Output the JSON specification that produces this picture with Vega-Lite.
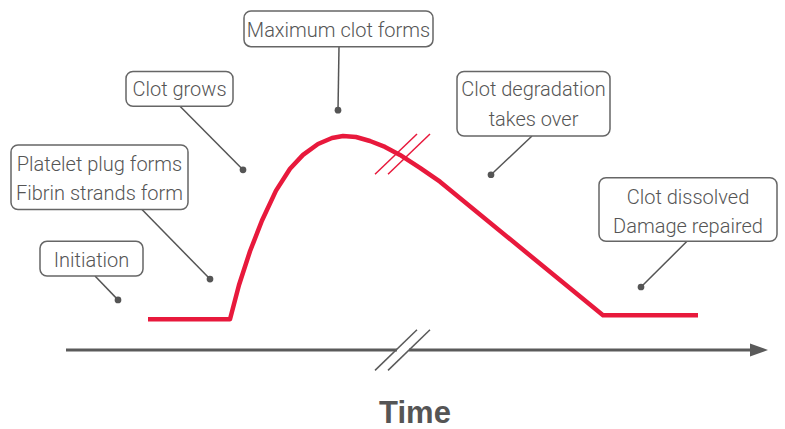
{
  "$schema": "https://vega.github.io/schema/vega-lite/v6.json",
  "width": 785,
  "height": 429,
  "autosize": {"type": "fit", "contains": "padding"},
  "padding": 0,
  "background": "white",
  "config": {"view": {"stroke": null}},
  "datasets": {
    "curve": [
      {"i": 0, "x": 148, "y": 321.5}, {"i": 1, "x": 230, "y": 321.5},
      {"i": 2, "x": 239, "y": 287}, {"i": 3, "x": 250, "y": 253},
      {"i": 4, "x": 262, "y": 222}, {"i": 5, "x": 276, "y": 192},
      {"i": 6, "x": 290, "y": 170}, {"i": 7, "x": 303, "y": 156},
      {"i": 8, "x": 318, "y": 145}, {"i": 9, "x": 332, "y": 139},
      {"i": 10, "x": 343, "y": 137}, {"i": 11, "x": 356, "y": 138},
      {"i": 12, "x": 370, "y": 142}, {"i": 13, "x": 385, "y": 148},
      {"i": 14, "x": 400, "y": 156}, {"i": 15, "x": 420, "y": 169},
      {"i": 16, "x": 440, "y": 183}, {"i": 17, "x": 603, "y": 317.5},
      {"i": 18, "x": 698, "y": 317.5}
    ],
    "boxes": [
      {"label": "Initiation", "x": 40, "y": 243, "x2": 143, "y2": 278},
      {"label": "Platelet", "x": 11, "y": 146, "x2": 188, "y2": 211},
      {"label": "Clot grows", "x": 126, "y": 72, "x2": 233, "y2": 107},
      {"label": "Maximum", "x": 244, "y": 11, "x2": 433, "y2": 47},
      {"label": "Degradation", "x": 457, "y": 72, "x2": 610, "y2": 137},
      {"label": "Dissolved", "x": 599, "y": 179, "x2": 777, "y2": 243}
    ],
    "texts": [
      {"t": "Initiation", "x": 91.5, "y": 268.5},
      {"t": "Platelet plug forms", "x": 99.5, "y": 172.5},
      {"t": "Fibrin strands form", "x": 99.5, "y": 201.5},
      {"t": "Clot grows", "x": 179.5, "y": 97},
      {"t": "Maximum clot forms", "x": 338.5, "y": 37},
      {"t": "Clot degradation", "x": 533.5, "y": 97},
      {"t": "takes over", "x": 533.5, "y": 126.5},
      {"t": "Clot dissolved", "x": 688, "y": 205.5},
      {"t": "Damage repaired", "x": 688, "y": 235}
    ],
    "leaders": [
      {"x": 95, "y": 278, "x2": 118, "y2": 302},
      {"x": 142, "y": 211, "x2": 210, "y2": 281},
      {"x": 180, "y": 107, "x2": 243, "y2": 171},
      {"x": 339, "y": 47, "x2": 338, "y2": 111},
      {"x": 532, "y": 137, "x2": 491, "y2": 176},
      {"x": 687, "y": 243, "x2": 641, "y2": 289}
    ],
    "dots": [
      {"x": 118, "y": 302}, {"x": 210, "y": 281}, {"x": 243, "y": 171},
      {"x": 338, "y": 111}, {"x": 491, "y": 176}, {"x": 641, "y": 289}
    ],
    "axis": [
      {"x": 66, "y": 352.5, "x2": 397, "y2": 352.5},
      {"x": 409, "y": 352.5, "x2": 752, "y2": 352.5}
    ],
    "axisBreak": [
      {"x": 375, "y": 373, "x2": 417, "y2": 332},
      {"x": 388, "y": 373, "x2": 430, "y2": 332}
    ],
    "curveBreak": [
      {"x": 375, "y": 175.5, "x2": 417, "y2": 135},
      {"x": 388, "y": 175.5, "x2": 430, "y2": 135}
    ],
    "arrow": [{"x": 759, "y": 352.5}],
    "title": [{"t": "Time", "x": 415, "y": 426}]
  },
  "layer": [
    {
      "data": {"name": "axis"},
      "mark": {"type": "rule", "stroke": "#5a5a5a", "strokeWidth": 3},
      "encoding": {
        "x": {"field": "x", "type": "quantitative", "scale": {"domain": [0, 785], "nice": false, "zero": false}, "axis": null},
        "y": {"field": "y", "type": "quantitative", "scale": {"domain": [0, 429], "nice": false, "zero": false, "reverse": true}, "axis": null},
        "x2": {"field": "x2"},
        "y2": {"field": "y2"}
      }
    },
    {
      "data": {"name": "axisBreak"},
      "mark": {"type": "rule", "stroke": "#5a5a5a", "strokeWidth": 1.5},
      "encoding": {
        "x": {"field": "x", "type": "quantitative", "scale": {"domain": [0, 785], "nice": false, "zero": false}, "axis": null},
        "y": {"field": "y", "type": "quantitative", "scale": {"domain": [0, 429], "nice": false, "zero": false, "reverse": true}, "axis": null},
        "x2": {"field": "x2"},
        "y2": {"field": "y2"}
      }
    },
    {
      "data": {"name": "arrow"},
      "mark": {"type": "point", "shape": "M-1,-0.72L1,0L-1,0.72Z", "filled": true, "fill": "#5a5a5a", "opacity": 1, "strokeWidth": 0, "size": 324},
      "encoding": {
        "x": {"field": "x", "type": "quantitative", "scale": {"domain": [0, 785], "nice": false, "zero": false}, "axis": null},
        "y": {"field": "y", "type": "quantitative", "scale": {"domain": [0, 429], "nice": false, "zero": false, "reverse": true}, "axis": null}
      }
    },
    {
      "data": {"name": "leaders"},
      "mark": {"type": "rule", "stroke": "#555555", "strokeWidth": 1.5},
      "encoding": {
        "x": {"field": "x", "type": "quantitative", "scale": {"domain": [0, 785], "nice": false, "zero": false}, "axis": null},
        "y": {"field": "y", "type": "quantitative", "scale": {"domain": [0, 429], "nice": false, "zero": false, "reverse": true}, "axis": null},
        "x2": {"field": "x2"},
        "y2": {"field": "y2"}
      }
    },
    {
      "data": {"name": "dots"},
      "mark": {"type": "point", "shape": "circle", "filled": true, "fill": "#555555", "opacity": 1, "strokeWidth": 0, "size": 45},
      "encoding": {
        "x": {"field": "x", "type": "quantitative", "scale": {"domain": [0, 785], "nice": false, "zero": false}, "axis": null},
        "y": {"field": "y", "type": "quantitative", "scale": {"domain": [0, 429], "nice": false, "zero": false, "reverse": true}, "axis": null}
      }
    },
    {
      "data": {"name": "boxes"},
      "mark": {"type": "rect", "fill": "white", "stroke": "#666666", "strokeWidth": 1.5, "cornerRadius": 7},
      "encoding": {
        "x": {"field": "x", "type": "quantitative", "scale": {"domain": [0, 785], "nice": false, "zero": false}, "axis": null},
        "y": {"field": "y", "type": "quantitative", "scale": {"domain": [0, 429], "nice": false, "zero": false, "reverse": true}, "axis": null},
        "x2": {"field": "x2"},
        "y2": {"field": "y2"}
      }
    },
    {
      "data": {"name": "texts"},
      "mark": {"type": "text", "align": "center", "baseline": "alphabetic", "font": "Roboto, sans-serif", "fontWeight": 300, "fontSize": 20, "fill": "#555555"},
      "encoding": {
        "x": {"field": "x", "type": "quantitative", "scale": {"domain": [0, 785], "nice": false, "zero": false}, "axis": null},
        "y": {"field": "y", "type": "quantitative", "scale": {"domain": [0, 429], "nice": false, "zero": false, "reverse": true}, "axis": null},
        "text": {"field": "t"}
      }
    },
    {
      "data": {"name": "curve"},
      "mark": {"type": "line", "stroke": "#e8193c", "strokeWidth": 4.5, "strokeJoin": "round", "strokeCap": "butt"},
      "encoding": {
        "x": {"field": "x", "type": "quantitative", "scale": {"domain": [0, 785], "nice": false, "zero": false}, "axis": null},
        "y": {"field": "y", "type": "quantitative", "scale": {"domain": [0, 429], "nice": false, "zero": false, "reverse": true}, "axis": null},
        "order": {"field": "i", "type": "quantitative"}
      }
    },
    {
      "data": {"name": "curveBreak"},
      "mark": {"type": "rule", "stroke": "#e8193c", "strokeWidth": 1.5},
      "encoding": {
        "x": {"field": "x", "type": "quantitative", "scale": {"domain": [0, 785], "nice": false, "zero": false}, "axis": null},
        "y": {"field": "y", "type": "quantitative", "scale": {"domain": [0, 429], "nice": false, "zero": false, "reverse": true}, "axis": null},
        "x2": {"field": "x2"},
        "y2": {"field": "y2"}
      }
    },
    {
      "data": {"name": "title"},
      "mark": {"type": "text", "align": "center", "baseline": "alphabetic", "font": "Liberation Sans, Arial, sans-serif", "fontSize": 31, "fontWeight": "bold", "fill": "#555555"},
      "encoding": {
        "x": {"field": "x", "type": "quantitative", "scale": {"domain": [0, 785], "nice": false, "zero": false}, "axis": null},
        "y": {"field": "y", "type": "quantitative", "scale": {"domain": [0, 429], "nice": false, "zero": false, "reverse": true}, "axis": null},
        "text": {"field": "t"}
      }
    }
  ]
}
